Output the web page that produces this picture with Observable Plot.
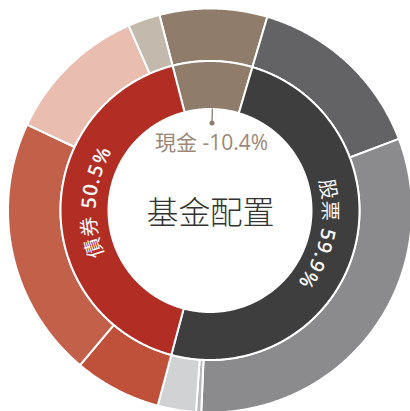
<!DOCTYPE html>
<html><head><meta charset="utf-8">
<script src="https://cdn.jsdelivr.net/npm/d3@7"></script>
<script src="https://cdn.jsdelivr.net/npm/@observablehq/plot@0.6"></script>
<style>
html,body{margin:0;padding:0;overflow:hidden;background:#fff;}
#chart svg{display:block;overflow:hidden;}
</style></head><body><div id="chart"></div>
<script>
// ---- data ----
const title = "基金配置";
const assetNames = ["現金", "股票", "債券"];
const assetValues = [-10.4, 59.9, 50.5];
const holdingGroups = ["現金", "股票", "股票", "股票", "股票", "債券", "債券", "債券", "債券"];
const holdingNames = ["現金", "股票一", "股票二", "股票三", "股票四", "債券一", "債券二", "債券三", "債券四"];
const holdingValues = [10.4, 17.7, 38.0, 0.5, 3.7, 8.4, 25.2, 13.8, 3.1];

// ---- styles ----
const assetPalette = ["#8f7c6b", "#3e3e3e", "#b22d23"];
const holdingPalette = ["#8f7c6b", "#636365", "#8b8b8e", "#b9b9bc", "#d1d2d4", "#bf5039", "#c3604a", "#e9bdaf", "#c3b9ad"];
const startAngle = -14.5;       // degrees clockwise from north
const innerR = [101.5, 149.5], outerR = [149.5, 202];
const labelR = 121, labelLift = 8.5, labelSize = 20, labelSpacing = 1.5;
const fontFamily = '"Open Sans", "Noto Sans CJK TC", sans-serif';

const total = d3.sum(assetValues, Math.abs);
function layout(values, prefix) {
  let a = startAngle;
  return values.map((v, i) => {
    const span = Math.abs(v) / total * 360;
    const s = {key: prefix + i, i, a0: a, a1: a + span, mid: a + span / 2};
    a += span;
    return s;
  });
}
const rad = d => d * Math.PI / 180;
function ring(slices, [r0, r1], palette) {
  const pts = [];
  for (const s of slices) {
    const n = Math.max(2, Math.ceil((s.a1 - s.a0) / 0.5));
    for (let k = 0; k <= n; k++) {
      const a = rad(s.a0 + (s.a1 - s.a0) * k / n);
      pts.push({key: s.key, fill: palette[s.i],
        xo: r1 * Math.sin(a), yo: r1 * Math.cos(a),
        xi: r0 * Math.sin(a), yi: r0 * Math.cos(a)});
    }
  }
  return pts;
}
const assetSlices = layout(assetValues, "a");
const holdingSlices = layout(holdingValues, "h");

// text along arc, one record per character
const ctx = document.createElement("canvas").getContext("2d");
const isCJK = c => /[\u3000-\u9fff]/.test(c);
function arcText(str, midDeg) {
  const chars = Array.from(str);
  const widths = chars.map(c => {
    ctx.font = `${isCJK(c) ? 400 : 600} ${labelSize}px ${fontFamily}`;
    return ctx.measureText(c).width + labelSpacing;
  });
  const W = d3.sum(widths);
  const cx = labelR * Math.sin(rad(midDeg)), cy = labelLift + labelR * Math.cos(rad(midDeg));
  const cDeg = Math.atan2(cx, cy) * 180 / Math.PI;
  const r = Math.hypot(cx, cy);
  let cum = 0;
  return chars.map((c, i) => {
    const a = rad(cDeg) + (cum + widths[i] / 2 - W / 2) / r;
    cum += widths[i];
    return {ch: c, cjk: isCJK(c), x: r * Math.sin(a), y: r * Math.cos(a), rot: a * 180 / Math.PI};
  });
}
const fmt = v => `${v}%`;
const arcLabels = [1, 2].flatMap(i => arcText(`${assetNames[i]} ${fmt(assetValues[i])}`, assetSlices[i].mid));

const cash = assetSlices[0];
const ca = rad(cash.mid);
const leader = [{x1: 102.5 * Math.sin(ca), y1: 102.5 * Math.cos(ca), x2: 88 * Math.sin(ca), y2: 88 * Math.cos(ca)}];
const cashLabel = [{text: `${assetNames[0]} ${fmt(assetValues[0])}`, x: 68 * Math.sin(ca), y: 68 * Math.cos(ca)}];

const plot = Plot.plot({
  width: 410, height: 411, margin: 0,
  x: {domain: [-210, 200], range: [0, 410], axis: null},
  y: {domain: [-200.5, 210.5], range: [411, 0], axis: null},
  color: {type: "identity"},
  style: {background: "white", overflow: "hidden"},
  marks: [
    Plot.area(ring(holdingSlices, outerR, holdingPalette), {x1: "xo", y1: "yo", x2: "xi", y2: "yi", z: "key", fill: "fill", stroke: "white", strokeWidth: 2, clip: true}),
    Plot.area(ring(assetSlices, innerR, assetPalette), {x1: "xo", y1: "yo", x2: "xi", y2: "yi", z: "key", fill: "fill", stroke: "white", strokeWidth: 2, clip: true}),
    Plot.text(arcLabels.filter(d => d.cjk), {x: "x", y: "y", text: "ch", rotate: "rot", fill: "#f6f6f6", fontSize: labelSize, fontFamily, fontWeight: 400, textAnchor: "middle", lineAnchor: "middle"}),
    Plot.text(arcLabels.filter(d => !d.cjk), {x: "x", y: "y", text: "ch", rotate: "rot", fill: "#f6f6f6", fontSize: labelSize, fontFamily, fontWeight: 600, textAnchor: "middle", lineAnchor: "middle"}),
    Plot.link(leader, {x1: "x1", y1: "y1", x2: "x2", y2: "y2", stroke: "#8f7c6b", strokeWidth: 1.3}),
    Plot.dot(leader, {x: "x2", y: "y2", r: 2.5, fill: "#8f7c6b"}),
    Plot.text(cashLabel, {x: "x", y: "y", text: "text", fill: "#9c8878", fontSize: 21, fontFamily, fontWeight: 400, lineAnchor: "middle"}),
    Plot.text([title], {x: () => 0, y: () => -3, text: d => d, fill: "#333", fontSize: 32, fontFamily, fontWeight: 300, lineAnchor: "middle"})
  ]
});
document.getElementById("chart").append(plot);
</script></body></html>
